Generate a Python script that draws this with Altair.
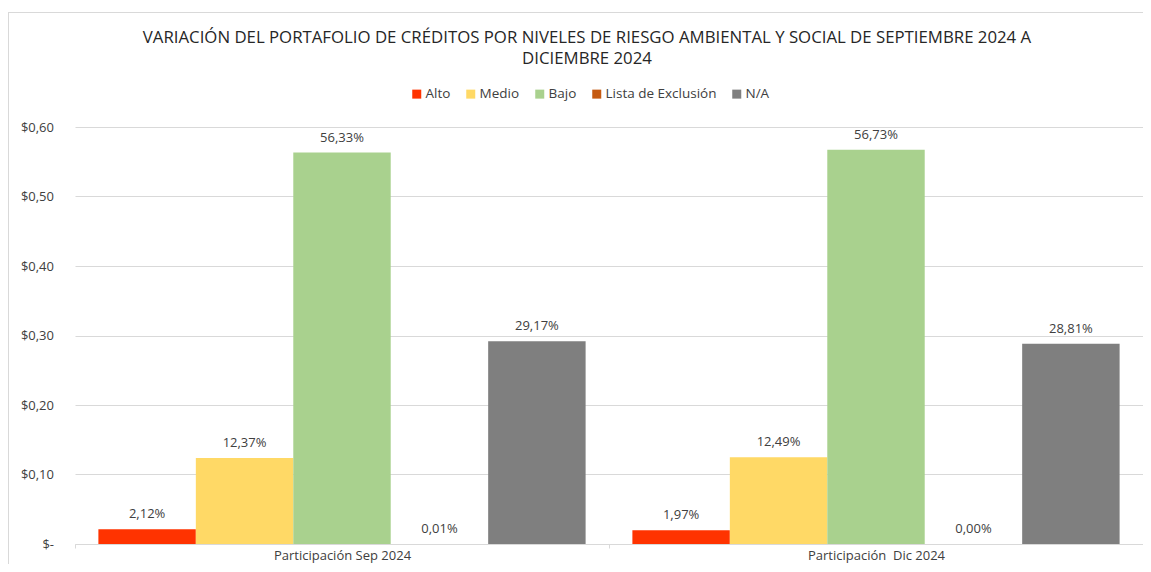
import altair as alt
import pandas as pd

# ---- data ----
groups = ["Participación Sep 2024", "Participación\u00a0 Dic 2024"]
levels = ["Alto", "Medio", "Bajo", "Lista de Exclusión", "N/A"]
sep_values = [0.0212, 0.1237, 0.5633, 0.0001, 0.2917]
dic_values = [0.0197, 0.1249, 0.5673, 0.0000, 0.2881]
level_colors = ["#FF3300", "#FFD966", "#A9D18E", "#C55A11", "#7F7F7F"]
y_ticks = [0.0, 0.1, 0.2, 0.3, 0.4, 0.5, 0.6]
title_lines = [
    "VARIACIÓN DEL PORTAFOLIO DE CRÉDITOS POR NIVELES DE RIESGO AMBIENTAL Y SOCIAL DE SEPTIEMBRE 2024 A",
    "DICIEMBRE 2024",
]
top_text = "septiembre 2024 a diciembre 2024"

rows = []
for g, vals in zip(groups, [sep_values, dic_values]):
    for lvl, v in zip(levels, vals):
        rows.append({"grupo": g, "nivel": lvl, "valor": v})
df = pd.DataFrame(rows)

FONT = "Open Sans"
GRID = "#D9D9D9"
TXT = "#404040"

base = alt.Chart(df).transform_calculate(
    etiqueta="replace(format(datum.valor * 100, '.2f'), '.', ',') + '%'"
)

x_enc = alt.X(
    "grupo:N",
    sort=groups,
    scale=alt.Scale(paddingInner=0, paddingOuter=0),
    axis=alt.Axis(
        title=None,
        labelAngle=0,
        labelFont=FONT,
        labelFontSize=13,
        labelColor=TXT,
        labelPadding=1,
        domainColor=GRID,
        tickColor=GRID,
        tickSize=4,
        tickBand="extent",
        grid=False,
    ),
)
xoff_enc = alt.XOffset(
    "nivel:N",
    sort=levels,
    scale=alt.Scale(domain=levels, paddingInner=0, paddingOuter=0.24),
)
y_enc = alt.Y(
    "valor:Q",
    scale=alt.Scale(domain=[0, 0.6], nice=False),
    axis=alt.Axis(
        title=None,
        values=y_ticks,
        labelExpr="datum.value == 0 ? '$-\u00a0\u00a0' : '$' + replace(format(datum.value, '.2f'), '.', ',')",
        labelFont=FONT,
        labelFontSize=13,
        labelColor=TXT,
        labelPadding=21.5,
        ticks=False,
        domain=False,
        gridColor=GRID,
        gridWidth=1,
    ),
)

bars = base.mark_bar().encode(
    x=x_enc,
    xOffset=xoff_enc,
    y=y_enc,
    color=alt.Color(
        "nivel:N",
        sort=levels,
        scale=alt.Scale(domain=levels, range=level_colors),
        legend=alt.Legend(
            title=None,
            orient="none",
            legendX=335,
            legendY=-40,
            direction="horizontal",
            symbolType="square",
            symbolSize=81,
            symbolStrokeWidth=0,
            labelFont=FONT,
            labelFontSize=13.5,
            labelColor=TXT,
            labelOffset=2,
            columnPadding=13,
            padding=0,
        ),
    ),
)

labels = base.mark_text(
    baseline="bottom", dy=-8, font=FONT, fontSize=13, color=TXT
).encode(x=x_enc, xOffset=xoff_enc, y=y_enc, text="etiqueta:N")

one = pd.DataFrame({"t": [top_text]})
cut_text = alt.Chart(one).mark_text(
    align="left", baseline="alphabetic", font="Liberation Sans", fontSize=26.7, color="#000000"
).encode(x=alt.value(-66), y=alt.value(-124), text="t:N")

title_mark = alt.Chart(one).mark_text(
    align="center", baseline="alphabetic", font=FONT, fontSize=16.8,
    color="#262626", lineHeight=21,
).encode(x=alt.value(512), y=alt.value(-84.5), text=alt.value(title_lines))

frame_top = alt.Chart(one).mark_rule(color=GRID, strokeWidth=1).encode(
    x=alt.value(-67), x2=alt.value(1400), y=alt.value(-114.5)
)
frame_left = alt.Chart(one).mark_rule(color=GRID, strokeWidth=1).encode(
    x=alt.value(-66.5), y=alt.value(-115), y2=alt.value(800)
)

chart = (
    alt.layer(frame_top, frame_left, cut_text, title_mark, bars, labels)
    .properties(
        width=1068,
        height=417,
        autosize=alt.AutoSizeParams(type="none"),
        padding={"left": 67, "top": 119, "right": 0, "bottom": 20},
        background="white",
    )
    .configure_view(stroke=None)
)

chart.save("out.html", embed_options={"renderer": "svg", "actions": False})
